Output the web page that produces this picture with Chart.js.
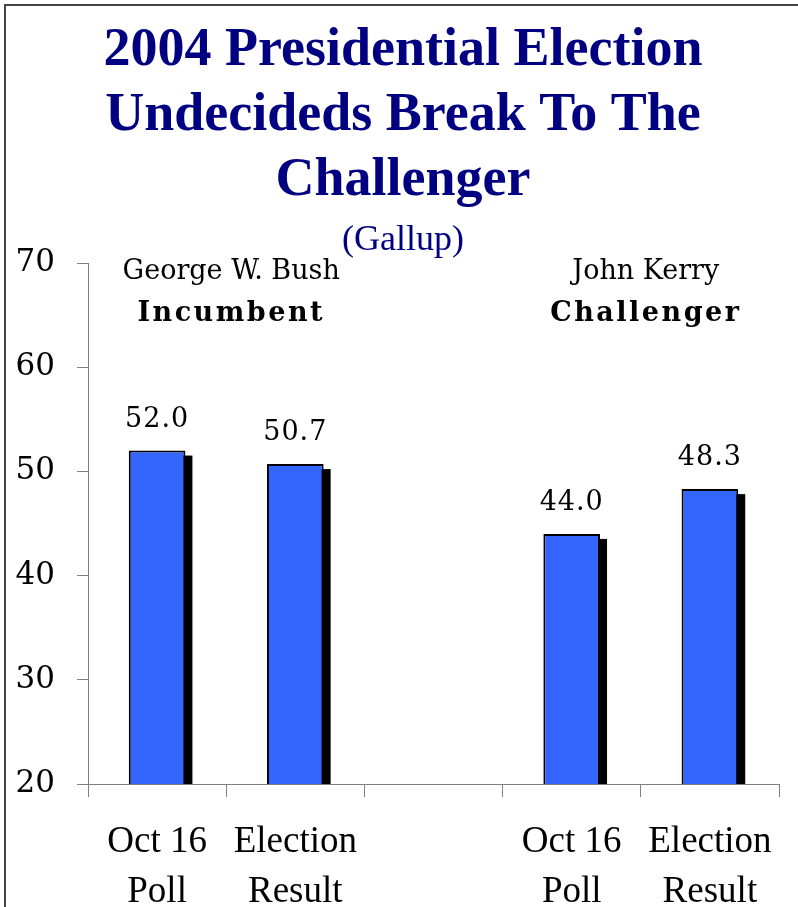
<!DOCTYPE html>
<html>
<head>
<meta charset="utf-8">
<script src="https://cdn.jsdelivr.net/npm/chart.js@4.4.1/dist/chart.umd.min.js"></script>
<style>
  html, body { margin: 0; padding: 0; background: #fff; overflow: hidden; }
  #wrap { position: relative; width: 798px; height: 907px; overflow: hidden; }
  #frame { position: absolute; left: 4px; top: 4px; width: 810px; height: 920px;
           border-left: 2px solid #444; border-top: 2px solid #444; pointer-events: none; }
</style>
</head>
<body>
<div id="wrap">
  <canvas id="pollChart" width="806" height="907"></canvas>
  <div id="frame"></div>
</div>
<script>
// poll vs. result, 2004
const categories = [['Oct 16', 'Poll'], ['Election', 'Result'], '', ['Oct 16', 'Poll'], ['Election', 'Result']];
const shares = [52.0, 50.7, null, 44.0, 48.3];
const candidates = ['George W. Bush', 'John Kerry'];
const roles = ['Incumbent', 'Challenger'];
const groupBars = [[0, 1], [3, 4]];
const yMin = 20, yMax = 70, yStep = 10;

const SERIF = "'Liberation Serif', serif";
const DEJAVU = "'DejaVu Serif', serif";

// black drop shadow behind each bar
const barShadow = {
  id: 'barShadow',
  beforeDatasetsDraw(chart) {
    const { ctx, chartArea } = chart;
    const meta = chart.getDatasetMeta(0);
    ctx.save();
    ctx.beginPath();
    ctx.rect(chartArea.left, chartArea.top, chartArea.width, chartArea.height);
    ctx.clip();
    ctx.fillStyle = '#000';
    meta.data.forEach((bar, i) => {
      if (shares[i] == null) return;
      const { x, y, base, width } = bar.getProps(['x', 'y', 'base', 'width'], true);
      ctx.fillRect(x - width / 2 + 7, y + 5, width, base - y - 5);
    });
    ctx.restore();
  }
};

// value above each bar
const valueLabels = {
  id: 'valueLabels',
  afterDatasetsDraw(chart) {
    const { ctx } = chart;
    const meta = chart.getDatasetMeta(0);
    ctx.save();
    ctx.font = '27px ' + DEJAVU;
    ctx.letterSpacing = '1px';
    ctx.fillStyle = '#000';
    ctx.textAlign = 'center';
    ctx.textBaseline = 'middle';
    meta.data.forEach((bar, i) => {
      if (shares[i] == null) return;
      ctx.fillText(shares[i].toFixed(1), bar.x, bar.y - 31);
    });
    ctx.restore();
  }
};

// candidate name + role over each pair of bars
const groupLabels = {
  id: 'groupLabels',
  afterDraw(chart) {
    const { ctx, scales } = chart;
    ctx.save();
    ctx.fillStyle = '#000';
    ctx.textAlign = 'center';
    ctx.textBaseline = 'middle';
    groupBars.forEach((pair, g) => {
      const x = (scales.x.getPixelForValue(pair[0]) + scales.x.getPixelForValue(pair[1])) / 2 + 5;
      ctx.font = '27px ' + DEJAVU;
      ctx.letterSpacing = '0px';
      ctx.fillText(candidates[g], x, scales.y.getPixelForValue(69.1));
      ctx.font = 'bold 27px ' + DEJAVU;
      ctx.letterSpacing = '2.5px';
      ctx.fillText(roles[g], x, scales.y.getPixelForValue(65.1));
    });
    ctx.restore();
  }
};

new Chart(document.getElementById('pollChart').getContext('2d'), {
  type: 'bar',
  data: {
    labels: categories,
    datasets: [{
      data: shares,
      backgroundColor: '#3366ff',
      borderColor: '#000',
      borderWidth: 2,
      categoryPercentage: 1,
      barPercentage: 0.41
    }]
  },
  options: {
    responsive: false,
    animation: false,
    layout: { padding: 0 },
    scales: {
      x: {
        ticks: {
          color: '#000',
          font: { family: SERIF, size: 37, lineHeight: 1.35 },
          padding: 20,
          maxRotation: 0,
          autoSkip: false
        },
        grid: { drawOnChartArea: false, tickLength: 13, color: '#808080', offset: true },
        border: { color: '#808080' },
        afterFit(scale) { scale.height = 123; }
      },
      y: {
        min: yMin,
        max: yMax,
        ticks: {
          stepSize: yStep,
          color: '#000',
          font: { family: DEJAVU, size: 31 },
          padding: 22
        },
        grid: { drawOnChartArea: false, tickLength: 11, color: '#808080' },
        border: { color: '#808080' },
        afterFit(scale) { scale.width = 88; }
      },
      // empty gutter on the right so the plot ends short of the edge
      gutter: {
        position: 'right',
        min: yMin,
        max: yMax,
        ticks: { display: false },
        grid: { display: false },
        border: { display: false },
        afterFit(scale) { scale.width = 27; }
      }
    },
    plugins: {
      legend: { display: false },
      tooltip: { enabled: false },
      title: {
        display: true,
        text: ['2004 Presidential Election', 'Undecideds Break To The', 'Challenger'],
        color: '#000080',
        font: { family: SERIF, size: 54, weight: 'bold', lineHeight: 1.2 },
        padding: { top: 19, bottom: 0 }
      },
      subtitle: {
        display: true,
        text: '(Gallup)',
        color: '#000080',
        font: { family: SERIF, size: 36, lineHeight: 1.1 },
        padding: { top: 7, bottom: 3 }
      }
    }
  },
  plugins: [barShadow, valueLabels, groupLabels]
});
</script>
</body>
</html>
